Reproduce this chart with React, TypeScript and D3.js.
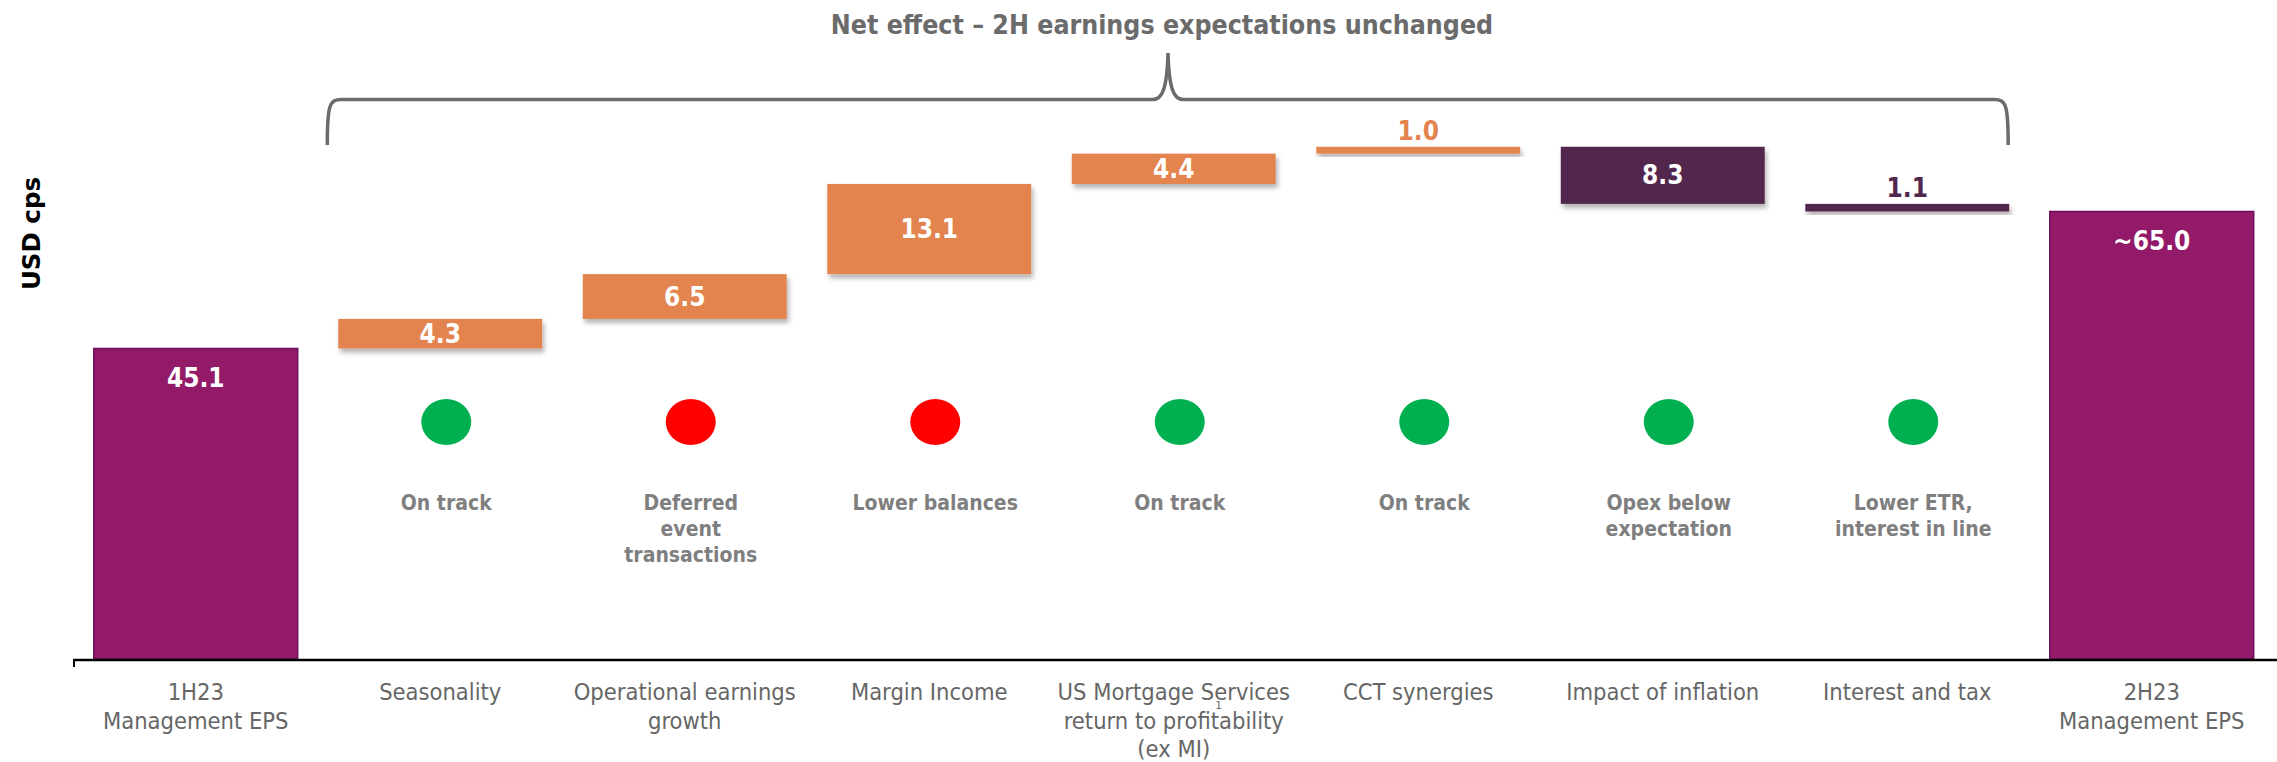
import { useEffect, useRef } from "react";
import * as d3 from "d3";

// categories (label lines) and the waterfall steps
const categories = [
  "1H23",
  "Seasonality",
  "Operational earnings",
  "Margin Income",
  "US Mortgage Services",
  "CCT synergies",
  "Impact of inflation",
  "Interest and tax",
  "2H23",
];
const categoryLines = [
  ["1H23", "Management EPS"],
  ["Seasonality"],
  ["Operational earnings", "growth"],
  ["Margin Income"],
  ["US Mortgage Services", "return to profitability", "(ex MI)"],
  ["CCT synergies"],
  ["Impact of inflation"],
  ["Interest and tax"],
  ["2H23", "Management EPS"],
];
const values = [45.1, 4.3, 6.5, 13.1, 4.4, 1.0, -8.3, -1.1, 65.0];
const kinds = ["total", "up", "up", "up", "up", "up", "down", "down", "total"];
const valueLabels = ["45.1", "4.3", "6.5", "13.1", "4.4", "1.0", "8.3", "1.1", "~65.0"];
const statuses = ["", "green", "red", "red", "green", "green", "green", "green", ""];
const comments = [
  [],
  ["On track"],
  ["Deferred", "event", "transactions"],
  ["Lower balances"],
  ["On track"],
  ["On track"],
  ["Opex below", "expectation"],
  ["Lower ETR,", "interest in line"],
  [],
];
const title = "Net effect \u2013 2H earnings expectations unchanged";
const yAxisTitle = "USD cps";

const colors: Record<string, string> = {
  total: "#921a68",
  up: "#e3844f",
  down: "#52274e",
  green: "#00b050",
  red: "#ff0000",
};

const font = "'DejaVu Sans Condensed', 'DejaVu Sans', sans-serif";

const WaterfallChart = () => {
  const svgRef = useRef<SVGSVGElement>(null);

  useEffect(() => {
    const svg = d3.select(svgRef.current);
    svg.selectAll("*").remove();

    const width = 2277;
    const height = 762;
    const baseY = 659;

    svg.attr("width", width).attr("height", height);

    // shadow under the step bars
    const defs = svg.append("defs");
    defs
      .append("filter")
      .attr("id", "barShadow")
      .attr("x", "-10%")
      .attr("y", "-20%")
      .attr("width", "130%")
      .attr("height", "160%")
      .append("feDropShadow")
      .attr("dx", 2)
      .attr("dy", 4)
      .attr("stdDeviation", 2.5)
      .attr("flood-color", "#000")
      .attr("flood-opacity", 0.3);

    // build running totals
    let running = 0;
    const data = categories.map((c, i) => {
      const v = values[i];
      let start: number;
      let end: number;
      if (kinds[i] === "total") {
        start = 0;
        end = v;
        running = v;
      } else {
        start = running;
        end = running + v;
        running = end;
      }
      return {
        key: c,
        lines: categoryLines[i],
        kind: kinds[i],
        label: valueLabels[i],
        status: statuses[i],
        comment: comments[i],
        lo: Math.min(start, end),
        hi: Math.max(start, end),
      };
    });

    const x = d3
      .scaleBand()
      .domain(categories)
      .range([73.5, 2274])
      .paddingInner(0.166)
      .paddingOuter(0.083);

    const y = d3.scaleLinear().domain([0, 65]).range([baseY, baseY - 65 * 6.885]);

    const g = svg.append("g");

    // bars
    g.selectAll(".bar")
      .data(data)
      .enter()
      .append("rect")
      .attr("class", "bar")
      .attr("x", (d) => x(d.key) || 0)
      .attr("width", x.bandwidth())
      .attr("y", (d) => y(d.hi))
      .attr("height", (d) => y(d.lo) - y(d.hi))
      .attr("fill", (d) => colors[d.kind])
      .attr("stroke", (d) => (d.kind === "total" ? "#6c0f5e" : "none"))
      .attr("stroke-width", 1.5)
      .attr("filter", (d) => (d.kind === "total" ? null : "url(#barShadow)"));

    // value labels
    g.selectAll(".val")
      .data(data)
      .enter()
      .append("text")
      .attr("class", "val")
      .attr("x", (d) => (x(d.key) || 0) + x.bandwidth() / 2)
      .attr("y", (d) => {
        const h = y(d.lo) - y(d.hi);
        if (d.kind === "total") return y(d.hi) + 30;
        if (h < 20) return y(d.hi) - 16;
        return (y(d.hi) + y(d.lo)) / 2;
      })
      .attr("text-anchor", "middle")
      .attr("dominant-baseline", "central")
      .style("font-family", font)
      .style("font-stretch", "condensed")
      .style("font-weight", "bold")
      .style("font-size", "26px")
      .attr("fill", (d) => {
        const h = y(d.lo) - y(d.hi);
        return d.kind !== "total" && h < 20 ? colors[d.kind] : "#ffffff";
      })
      .text((d) => d.label);

    // status dots
    const withStatus = data.filter((d) => d.status !== "");
    g.selectAll(".dot")
      .data(withStatus)
      .enter()
      .append("ellipse")
      .attr("class", "dot")
      .attr("cx", (d) => (x(d.key) || 0) + x.bandwidth() / 2 + 6)
      .attr("cy", 422)
      .attr("rx", 25)
      .attr("ry", 23)
      .attr("fill", (d) => colors[d.status]);

    // status comments
    const cm = g
      .selectAll(".comment")
      .data(withStatus)
      .enter()
      .append("text")
      .attr("class", "comment")
      .attr("text-anchor", "middle")
      .style("font-family", font)
      .style("font-stretch", "condensed")
      .style("font-weight", "bold")
      .style("font-size", "21px")
      .attr("fill", "#7f7f7f");
    cm.selectAll("tspan")
      .data((d) => d.comment.map((t) => ({ t, cx: (x(d.key) || 0) + x.bandwidth() / 2 + 6 })))
      .enter()
      .append("tspan")
      .attr("x", (d) => d.cx)
      .attr("y", (_d, i) => 503 + i * 26)
      .attr("dominant-baseline", "central")
      .text((d) => d.t);

    // x axis line
    g.append("line")
      .attr("x1", 73.5)
      .attr("x2", width)
      .attr("y1", baseY + 1)
      .attr("y2", baseY + 1)
      .attr("stroke", "#000")
      .attr("stroke-width", 2.5);
    g.append("line")
      .attr("x1", 74)
      .attr("x2", 74)
      .attr("y1", baseY)
      .attr("y2", baseY + 8)
      .attr("stroke", "#000")
      .attr("stroke-width", 2);

    // category labels
    const cl = g
      .selectAll(".cat")
      .data(data)
      .enter()
      .append("text")
      .attr("class", "cat")
      .attr("text-anchor", "middle")
      .style("font-family", font)
      .style("font-stretch", "condensed")
      .style("font-size", "23.5px")
      .attr("fill", "#666666");
    cl.selectAll("tspan")
      .data((d) => d.lines.map((t) => ({ t, cx: (x(d.key) || 0) + x.bandwidth() / 2 })))
      .enter()
      .append("tspan")
      .attr("x", (d) => d.cx)
      .attr("y", (_d, i) => 692 + i * 28.7)
      .attr("dominant-baseline", "central")
      .text((d) => d.t);

    // footnote marker
    const usX = (x("US Mortgage Services") || 0) + x.bandwidth() / 2;
    g.append("text")
      .attr("x", usX + 45)
      .attr("y", 709)
      .attr("text-anchor", "middle")
      .style("font-family", font)
      .style("font-size", "11px")
      .attr("fill", "#666666")
      .text("1");

    // bracket over the bridge steps
    const bx0 = (x("Seasonality") || 0) - 11;
    const bx1 = (x("Interest and tax") || 0) + x.bandwidth() - 1;
    const bTop = 99.5;
    const bBot = 145;
    const peakX = 1168;
    const peakY = 53;
    const bracket = d3.path();
    bracket.moveTo(bx0, bBot);
    bracket.bezierCurveTo(bx0, bTop + 6, bx0 + 2, bTop, bx0 + 14, bTop);
    bracket.lineTo(peakX - 15, bTop);
    bracket.bezierCurveTo(peakX - 6, bTop, peakX - 1, bTop - 10, peakX, peakY);
    bracket.bezierCurveTo(peakX + 1, bTop - 10, peakX + 6, bTop, peakX + 15, bTop);
    bracket.lineTo(bx1 - 14, bTop);
    bracket.bezierCurveTo(bx1 - 2, bTop, bx1, bTop + 6, bx1, bBot);
    g.append("path")
      .attr("d", bracket.toString())
      .attr("fill", "none")
      .attr("stroke", "#6b6b6b")
      .attr("stroke-width", 3.5);

    // title
    g.append("text")
      .attr("x", peakX - 6)
      .attr("y", 24)
      .attr("text-anchor", "middle")
      .attr("dominant-baseline", "central")
      .style("font-family", font)
      .style("font-stretch", "condensed")
      .style("font-weight", "bold")
      .style("font-size", "26.5px")
      .attr("fill", "#6b6b6b")
      .text(title);

    // y axis title
    g.append("text")
      .attr("transform", `translate(31,233.5) rotate(-90)`)
      .attr("text-anchor", "middle")
      .attr("dominant-baseline", "central")
      .style("font-family", "'DejaVu Sans', sans-serif")
      .style("font-weight", "bold")
      .style("font-size", "24.5px")
      .attr("fill", "#000")
      .text(yAxisTitle);
  }, []);

  return (
    <svg
      ref={svgRef}
      style={{ position: "absolute", left: 0, top: 0, display: "block", background: "#fff" }}
    ></svg>
  );
};

export default function App() {
  return <WaterfallChart />;
}
